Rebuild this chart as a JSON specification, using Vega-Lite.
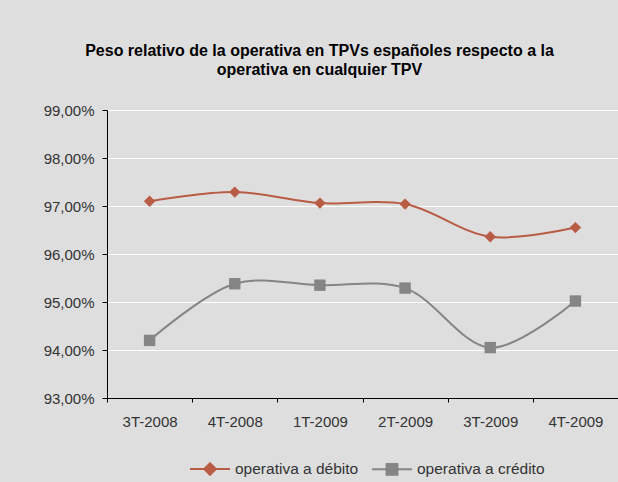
{
  "$schema": "https://vega.github.io/schema/vega-lite/v6.json",
  "width": 511,
  "height": 288,
  "autosize": {"type": "none"},
  "padding": {"left": 107, "top": 110, "right": 0, "bottom": 84},
  "background": "#dedede",
  "title": {
    "text": ["Peso relativo de la operativa en TPVs españoles respecto a la", "operativa en cualquier TPV"],
    "font": "Liberation Sans",
    "fontSize": 16,
    "fontWeight": "bold",
    "color": "#000000",
    "anchor": "middle",
    "dx": -43,
    "offset": 25,
    "lineHeight": 19
  },
  "config": {
    "view": {"stroke": null},
    "font": "Liberation Sans",
    "legend": {
      "orient": "none",
      "legendX": 82,
      "legendY": 338,
      "direction": "horizontal",
      "symbolSize": 1600,
      "symbolOpacity": 1,
      "symbolStrokeWidth": 2,
      "labelFontSize": 15.5,
      "labelColor": "#333333",
      "labelOffset": 4,
      "columnPadding": 9,
      "padding": 0
    }
  },
  "data": {
    "values": [
      {"trimestre": "3T-2008", "serie": "operativa a débito", "valor": 97.10},
      {"trimestre": "4T-2008", "serie": "operativa a débito", "valor": 97.29},
      {"trimestre": "1T-2009", "serie": "operativa a débito", "valor": 97.06},
      {"trimestre": "2T-2009", "serie": "operativa a débito", "valor": 97.04},
      {"trimestre": "3T-2009", "serie": "operativa a débito", "valor": 96.36},
      {"trimestre": "4T-2009", "serie": "operativa a débito", "valor": 96.55},
      {"trimestre": "3T-2008", "serie": "operativa a crédito", "valor": 94.20},
      {"trimestre": "4T-2008", "serie": "operativa a crédito", "valor": 95.38},
      {"trimestre": "1T-2009", "serie": "operativa a crédito", "valor": 95.35},
      {"trimestre": "2T-2009", "serie": "operativa a crédito", "valor": 95.29},
      {"trimestre": "3T-2009", "serie": "operativa a crédito", "valor": 94.05},
      {"trimestre": "4T-2009", "serie": "operativa a crédito", "valor": 95.02}
    ]
  },
  "encoding": {
    "x": {
      "field": "trimestre",
      "type": "nominal",
      "sort": ["3T-2008", "4T-2008", "1T-2009", "2T-2009", "3T-2009", "4T-2009"],
      "scale": {"type": "band", "paddingInner": 0, "paddingOuter": 0},
      "axis": {
        "title": null,
        "labelAngle": 0,
        "tickBand": "extent",
        "grid": false,
        "domainColor": "#000000",
        "tickColor": "#000000",
        "tickSize": 4,
        "labelFontSize": 15,
        "labelColor": "#333333",
        "labelPadding": 12
      }
    },
    "y": {
      "field": "valor",
      "type": "quantitative",
      "scale": {"domain": [93, 99]},
      "axis": {
        "title": null,
        "values": [93, 94, 95, 96, 97, 98, 99],
        "labelExpr": "replace(format(datum.value, '.2f'), '.', ',') + '%'",
        "grid": true,
        "gridColor": "#ffffff",
        "gridWidth": 1,
        "domainColor": "#000000",
        "tickColor": "#000000",
        "tickSize": 5,
        "labelPadding": 8,
        "labelFontSize": 15,
        "labelColor": "#333333"
      }
    },
    "color": {
      "field": "serie",
      "type": "nominal",
      "title": null,
      "scale": {
        "domain": ["operativa a débito", "operativa a crédito"],
        "range": ["#b95c45", "#858585"]
      }
    }
  },
  "layer": [
    {
      "mark": {"type": "line", "interpolate": "catmull-rom", "strokeWidth": 2}
    },
    {
      "mark": {"type": "point", "filled": true, "opacity": 1, "size": 130},
      "encoding": {
        "shape": {
          "condition": {"test": "datum.serie === 'operativa a débito'", "value": "diamond"},
          "value": "square"
        }
      }
    },
    {
      "mark": {"type": "point", "filled": true, "opacity": 0, "size": 1600, "strokeWidth": 2},
      "encoding": {
        "shape": {
          "field": "serie",
          "type": "nominal",
          "title": null,
          "scale": {
            "domain": ["operativa a débito", "operativa a crédito"],
            "range": ["M-1,0L1,0M0,-0.29L0.29,0L0,0.29L-0.29,0Z", "M-1,0L1,0M-0.27,-0.27L0.27,-0.27L0.27,0.27L-0.27,0.27Z"]
          }
        },
        "stroke": {
          "field": "serie",
          "type": "nominal",
          "title": null,
          "scale": {
            "domain": ["operativa a débito", "operativa a crédito"],
            "range": ["#b95c45", "#858585"]
          }
        }
      }
    }
  ]
}
